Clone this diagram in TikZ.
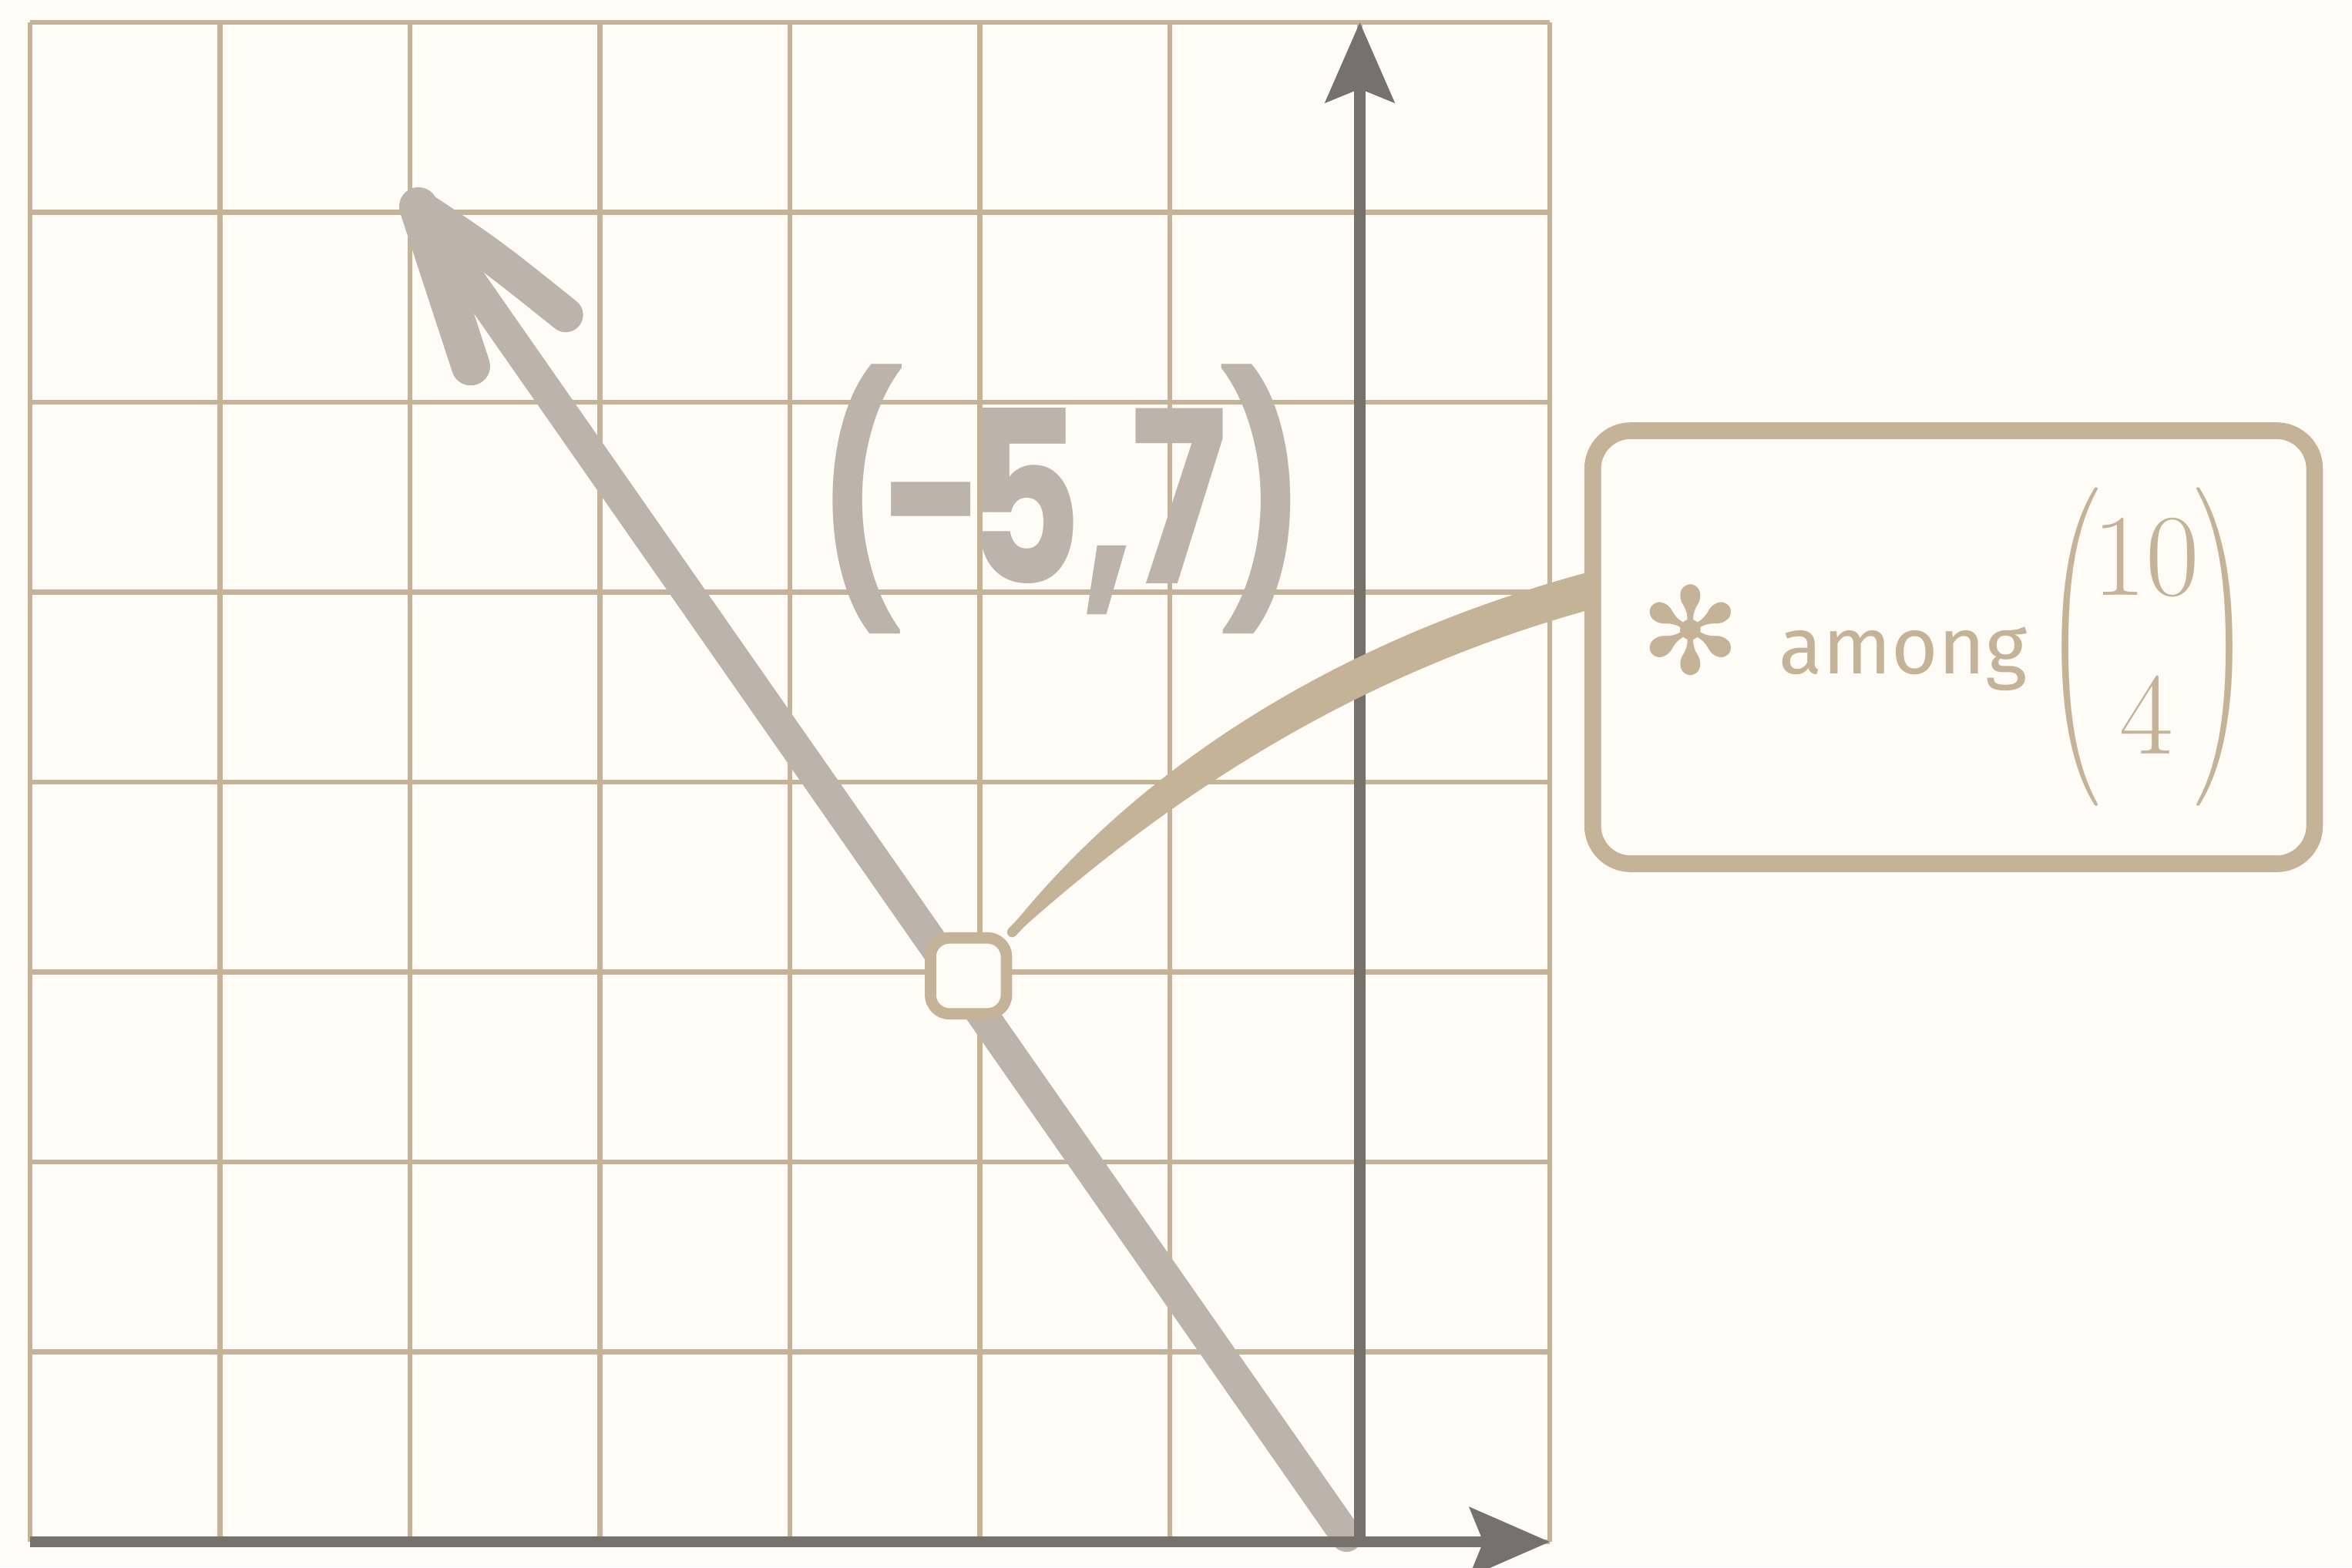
\RequirePackage{fix-cm}
\documentclass[tikz,border=0pt]{standalone}
\usepackage{amsmath}
\usepackage{graphicx}
\usepackage{fontspec}
\usetikzlibrary{positioning,arrows.meta}
\newfontfamily\handfont{Poppins}
\newfontfamily\dingfont{DejaVu Sans}
\newfontfamily\wordfont{Fira Sans}
\definecolor{paper}{HTML}{FFFCF7}
\definecolor{gridtan}{HTML}{C4B396}
\definecolor{axisgray}{HTML}{76716B}
\definecolor{vecgray}{HTML}{BCB3AA}
\newcommand{\slimparen}[2]{\scalebox{0.6}[0.92]{$\genfrac{#1}{#2}{0pt}{0}{}{}$}}
\newcommand{\slimbinom}[2]{\mathopen{\slimparen{(}{.}}\mkern-2.5mu\genfrac{}{}{0pt}{0}{#1}{#2}\mkern-2mu\mathclose{\slimparen{.}{)}}}
\pgfdeclarelayer{base}
\pgfdeclarelayer{links}
\pgfsetlayers{base,links,main}
\tikzstyle{gridline}=[gridtan, line width=0.75pt]
\tikzstyle{axis}=[axisgray, line width=1.7pt, -{Stealth[length=4.2mm, width=3.6mm, inset=0.7mm]}]
\tikzstyle{vector}=[vecgray, line width=4.7pt, line cap=round]
\tikzstyle{barb}=[vecgray, line width=5.8pt, line cap=round]
\tikzstyle{link}=[gridtan, line width=1.5pt, line cap=round]
\tikzstyle{marker}=[rectangle, draw=gridtan, fill=paper, line width=1.7pt, rounded corners=0.1cm,
        minimum size=0.4cm, inner sep=0pt]
\tikzstyle{callout}=[rectangle, draw=gridtan, fill=paper, line width=2.5pt, rounded corners=0.2cm,
        minimum width=3.8cm, minimum height=2.28cm, text=gridtan]
\tikzstyle{handlabel}=[text=vecgray, font=\handfont\bfseries\fontsize{36}{36}\selectfont]

\begin{document}
\begin{tikzpicture}

	\useasboundingbox (-0.158,-0.134) rectangle (12.223,8.118);

	\node (PointMark) [marker] at (4.94,2.98) {};

	\node (CallOut) [callout] at (10.126,4.71)
        {%
            {\dingfont\fontsize{18}{18}\selectfont ✻}\hspace{0.2cm}%
            {\wordfont\fontsize{12}{12}\selectfont among}\hspace{0.1cm}%
            {\fontsize{17.5}{20}\selectfont$\slimbinom{10}{4}$}\kern0.09cm%
        };

	\node (VecLabel) [handlabel] at (5.43,5.49)
        {\scalebox{0.75}[1]{(\kern-4.2pt-\kern-4.2pt5,\kern-0.6pt7\kern-1.5pt)}};

\begin{pgfonlayer}{base}
	\fill[paper] (-0.158,-0.134) rectangle (12.223,8.118);
	\draw[gridline] (0,0) grid (8,8);

	% the vector (-5,7)
	\coordinate (VecFoot) at (6.93,0.03);
	\coordinate (VecTip) at (2.045,7.03);
	\coordinate (BarbLeft) at (2.32,6.19);
	\coordinate (BarbRight) at (2.82,6.46);
	\draw[vector] (VecFoot) -- (VecTip);
	\draw[barb] (VecTip) -- (BarbLeft);
	\draw[barb, line width=5.2pt] (VecTip) .. controls (2.42,6.78) .. (BarbRight);

	% axes
	\coordinate (Origin) at (7,0);
	\coordinate (XStart) at (0,0);
	\coordinate (XEnd) at (8,0);
	\coordinate (YEnd) at (7,8);
	\draw[axis] (XStart) -- (XEnd);
	\draw[axis] (Origin) -- (YEnd);
\end{pgfonlayer}

\begin{pgfonlayer}{links}
	\coordinate (LinkStart) at (PointMark.north east);
	\coordinate (LinkEnd) at ([yshift=0.29cm]CallOut.west);
	\fill[gridtan] ([shift={(-0.015,0.014)}]LinkStart) .. controls (5.912,4.172) and (7.004,4.777) .. ([yshift=0.1cm]LinkEnd)
        -- ([yshift=-0.1cm]LinkEnd) .. controls (7.056,4.583) and (6.088,4.008) .. ([shift={(0.015,-0.014)}]LinkStart) -- cycle;
	\draw[link] (LinkStart) .. controls (6.0,4.09) and (7.03,4.68) .. (LinkEnd);
\end{pgfonlayer}

\end{tikzpicture}
\end{document}
